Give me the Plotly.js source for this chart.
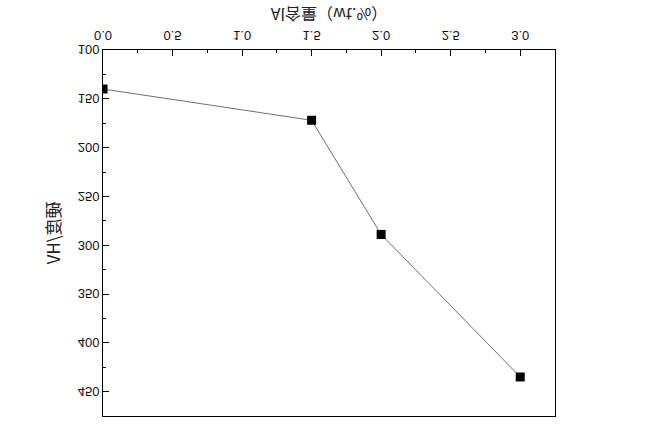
<!DOCTYPE html>
<html>
<head>
<meta charset="utf-8">
<script src="https://cdn.plot.ly/plotly-3.0.1.min.js"></script>
<style>
html,body{margin:0;padding:0;background:#fff;}
#chart{width:650px;height:430px;transform:scaleY(-1);transform-origin:50% 50%;}
</style>
</head>
<body>
<div id="chart"></div>
<script>
const alContent = [0.0, 1.5, 2.0, 3.0];
const hardness = [140, 172, 289, 435];
const xTitle = 'Al含量（wt.%）';
const yTitle = '硬度/HV';

const trace = {
  x: alContent,
  y: hardness,
  mode: 'lines+markers',
  type: 'scatter',
  line: {color: '#707070', width: 1},
  marker: {symbol: 'square', size: 9, color: '#000'},
  cliponaxis: true,
  showlegend: false
};

const layout = {
  width: 650,
  height: 430,
  margin: {l: 103, r: 95, t: 14, b: 50},
  paper_bgcolor: '#fff',
  plot_bgcolor: '#fff',
  font: {family: '"Liberation Sans", Arial, "Noto Sans CJK SC", sans-serif', size: 13, color: '#111'},
  xaxis: {
    range: [0, 3.25],
    dtick: 0.5,
    tick0: 0,
    tickformat: '.1f',
    ticks: 'inside',
    ticklen: 6,
    tickwidth: 1,
    tickcolor: '#000',
    ticklabelstandoff: 2,
    minor: {dtick: 0.25, ticks: 'inside', ticklen: 3, tickcolor: '#000'},
    showgrid: false,
    zeroline: false,
    showline: true,
    linecolor: '#000',
    linewidth: 1,
    mirror: true,
    title: {text: xTitle, font: {family: '"Noto Sans CJK SC", sans-serif', size: 16, color: '#222'}, standoff: 10}
  },
  yaxis: {
    range: [100, 475],
    dtick: 50,
    tick0: 100,
    ticks: 'inside',
    ticklen: 6,
    tickwidth: 1,
    tickcolor: '#000',
    minor: {dtick: 25, ticks: 'inside', ticklen: 3, tickcolor: '#000'},
    showgrid: false,
    zeroline: false,
    showline: true,
    linecolor: '#000',
    linewidth: 1,
    mirror: true,
    title: {text: yTitle, font: {family: '"Noto Sans CJK SC", sans-serif', size: 17, color: '#222'}, standoff: 12}
  }
};

Plotly.newPlot('chart', [trace], layout, {displayModeBar: false, staticPlot: true});
</script>
</body>
</html>
